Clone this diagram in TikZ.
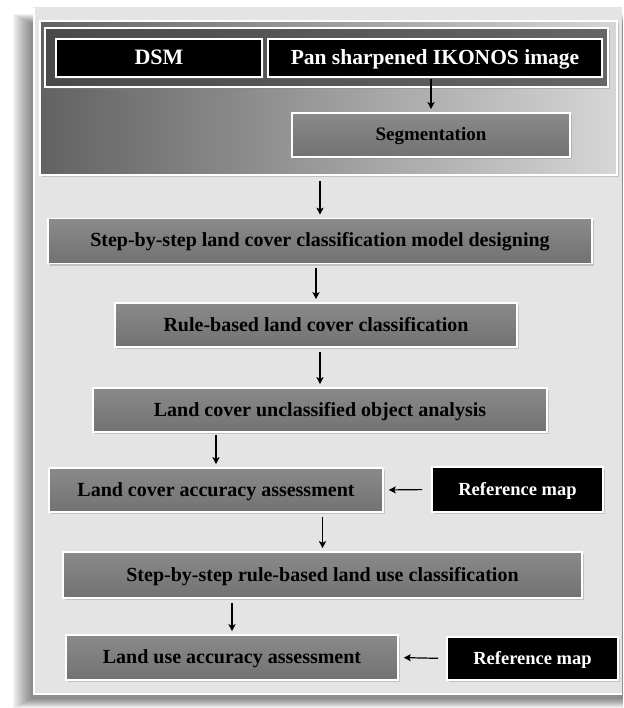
\documentclass[tikz,border=0pt]{standalone}
\usepackage{fontspec}
\setmainfont{Liberation Serif}
\usetikzlibrary{shadows,arrows.meta}
\definecolor{panelbg}{HTML}{E4E4E4}
\definecolor{boxtop}{HTML}{8A8A8A}
\definecolor{boxbot}{HTML}{727272}
\definecolor{banddark}{HTML}{4A4A4A}
\definecolor{gradL}{HTML}{626262}
\definecolor{gradR}{HTML}{D6D6D6}
\tikzset{
  softshadow/.style={drop shadow={shadow xshift=1.5pt, shadow yshift=-2pt, opacity=0.35}},
  graybox/.style={draw=white, line width=1.6pt, top color=boxtop, bottom color=boxbot,
    inner sep=0pt, text=black, font=\fontsize{20}{23}\selectfont\bfseries,
    text height=13pt, text depth=1pt, softshadow},
  blackbox/.style={draw=white, line width=1.6pt, fill=black, text=white,
    inner sep=0pt, font=\fontsize{18.5}{21}\selectfont\bfseries,
    text height=12.5pt, text depth=1pt, softshadow},
  flow/.style={line width=1.2pt, -{Stealth[length=7pt,width=7pt,inset=1.5pt]}, shorten <=4pt, shorten >=3pt},
}
\begin{document}
\begin{tikzpicture}[x=1pt,y=-1pt]
\useasboundingbox (0,0) rectangle (623,708);
\fill[white] (0,0) rectangle (623,708);
% panel shadow
\foreach \i in {0,...,9}
  \fill[black,opacity=0.055] ({13+2*\i},{14+\i}) rectangle (623,{708-\i});
% panel
\fill[panelbg] (33,7) rectangle (622,695);
\draw[white,line width=1.5pt] (34,8) -- (34,694) -- (622,694);

% top group
\node[draw=white, line width=1.6pt, left color=gradL, right color=gradR,
      minimum width=577pt, minimum height=154pt, inner sep=0pt, softshadow]
      (grp) at (328.5,98) {};
\node[draw=white, line width=1.4pt, left color=banddark, right color=banddark!85!white,
      minimum width=563pt, minimum height=59pt, inner sep=0pt, softshadow]
      (band) at (326.5,57.5) {};
\node[blackbox, font=\fontsize{22}{24}\selectfont\bfseries, text height=14.5pt,
      minimum width=206pt, minimum height=38pt]
      (dsm) at (159,58) {DSM};
\node[blackbox, font=\fontsize{21.5}{24}\selectfont\bfseries, text height=14.5pt,
      minimum width=334pt, minimum height=38pt]
      (pan) at (435,58) {Pan sharpened IKONOS image};
\node[graybox, font=\fontsize{19}{21}\selectfont\bfseries, minimum width=278pt, minimum height=44pt]
      (seg) at (431,135) {Segmentation};

% flow boxes
\node[graybox, minimum width=544pt, minimum height=45pt] (step1) at (320,241)
      {Step-by-step land cover classification model designing};
\node[graybox, minimum width=402pt, minimum height=44pt] (rule) at (316,325)
      {Rule-based land cover classification};
\node[graybox, minimum width=454pt, minimum height=44pt] (uncl) at (320,410)
      {Land cover unclassified object analysis};
\node[graybox, minimum width=334pt, minimum height=44pt] (lcaa) at (216,490)
      {Land cover accuracy assessment};
\node[blackbox, minimum width=171pt, minimum height=45pt] (ref1) at (517.5,489.5)
      {Reference map};
\node[graybox, minimum width=519pt, minimum height=46pt] (luc) at (322.5,575)
      {Step-by-step rule-based land use classification};
\node[graybox, minimum width=332pt, minimum height=45pt] (luaa) at (232,657.5)
      {Land use accuracy assessment};
\node[blackbox, minimum width=171pt, minimum height=43pt] (ref2) at (532.5,658.5)
      {Reference map};

% connectors
\draw[flow, shorten <=1pt] (pan.south -| seg.north) -- (seg.north);
\draw[flow, shorten <=5pt] (grp.south -| step1.north) -- (step1.north);
\draw[flow] (step1.south -| rule.north) -- (rule.north);
\draw[flow] (rule.south -| uncl.north) -- (uncl.north);
\draw[flow, shorten <=2pt] (uncl.south -| lcaa.north) -- (lcaa.north);
\draw[flow] (lcaa.south -| luc.north) -- (luc.north);
\draw[flow] (luc.south -| luaa.north) -- (luaa.north);
\draw[flow, shorten <=9pt, shorten >=5pt] (ref1.west) -- (lcaa.east);
\draw[flow, shorten <=8pt, shorten >=5pt] (ref2.west) -- (luaa.east);
\end{tikzpicture}
\end{document}
